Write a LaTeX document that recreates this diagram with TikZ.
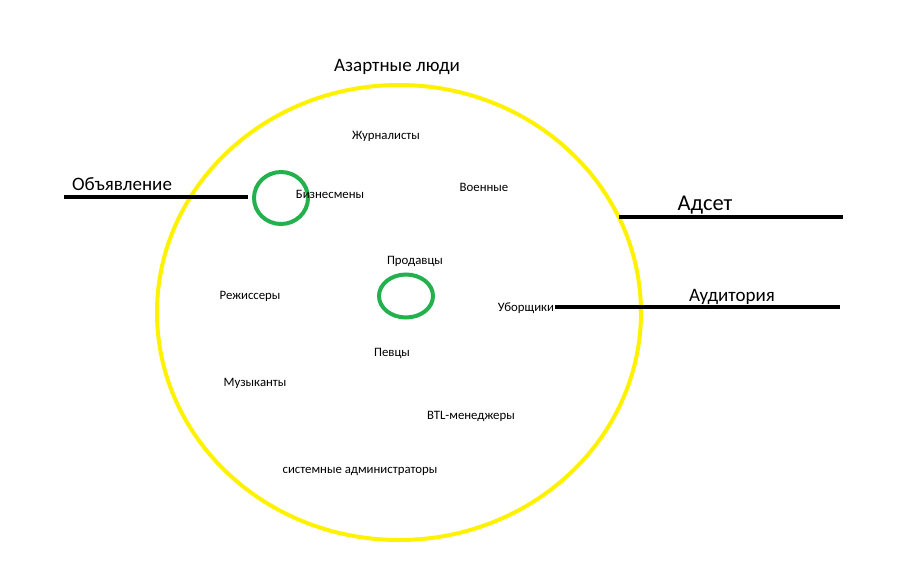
\documentclass[tikz,border=0pt]{standalone}
\usepackage{fontspec}
\setmainfont{Carlito}
\usetikzlibrary{shapes.geometric}
\definecolor{pyellow}{RGB}{255,242,0}
\definecolor{pgreen}{RGB}{34,177,76}
\begin{document}
\begin{tikzpicture}[x=1pt,y=-1pt,
  big/.style={font=\fontsize{19}{21}\selectfont, text=black, inner sep=0pt},
  small/.style={font=\fontsize{12.8}{14}\selectfont, text=black, inner sep=0pt},
  ring/.style={draw=pgreen, line width=4pt, ellipse, inner sep=0pt},
  bar/.style={draw=black, line width=4pt}]
\useasboundingbox[fill=white] (0,0) rectangle (900,571);
\node[draw=pyellow, line width=4pt, ellipse, minimum width=484pt, minimum height=455pt, inner sep=0pt] (aud) at (399,312.5) {};
\node[ring, minimum width=54pt, minimum height=52pt] (c1) at (281,198) {};
\node[ring, minimum width=54pt, minimum height=43pt] (c2) at (406,296) {};
\node[big] (title) at (397,67) {Азартные люди};
\node[big] (ob) at (122,184) {Объявление};
\node[big, font=\fontsize{22.5}{24}\selectfont] (ad) at (705,205) {Адсет};
\node[big] (au) at (732,297) {Аудитория};
\node[small] (n1) at (386,136) {Журналисты};
\node[small] (n2) at (330,194) {Бизнесмены};
\node[small] (n3) at (484,187) {Военные};
\node[small] (n4) at (415,261) {Продавцы};
\node[small] (n5) at (250,296) {Режиссеры};
\node[small] (n6) at (526,308) {Уборщики};
\node[small] (n7) at (392,353) {Певцы};
\node[small] (n8) at (255,383) {Музыканты};
\node[small] (n9) at (471,416) {BTL-менеджеры};
\node[small] (n10) at (360,471) {системные администраторы};
\coordinate (obL) at (64,197);
\coordinate (obR) at (248,197);
\coordinate (adL) at (619,217);
\coordinate (adR) at (843,217);
\coordinate (auR) at (840,307);
\draw[bar] (obL) -- (obR);
\draw[bar] (adL) -- (adR);
\draw[bar, line width=3.5pt] (n6.east) ++(1,-1) -- (auR);
\end{tikzpicture}
\end{document}
